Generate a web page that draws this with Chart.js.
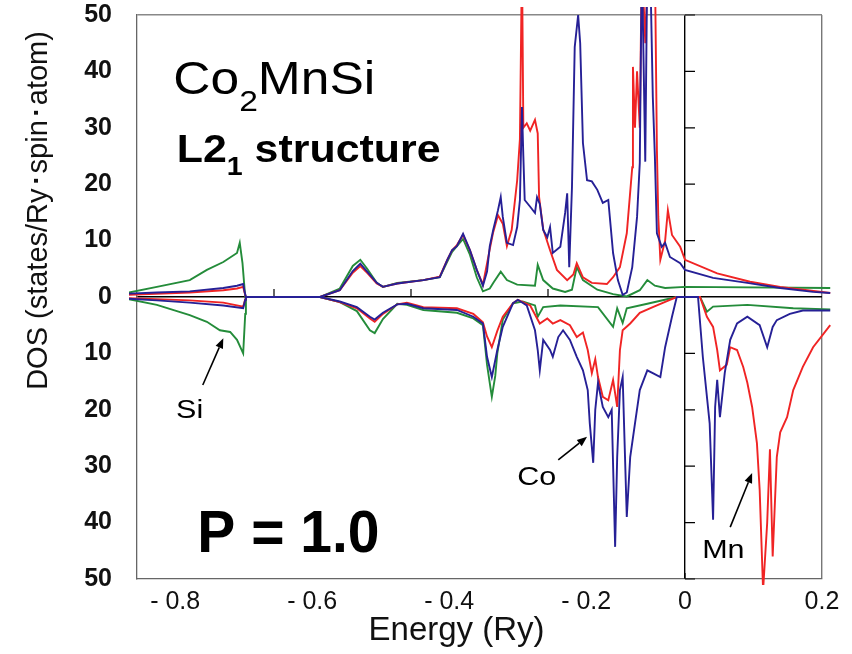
<!DOCTYPE html>
<html>
<head>
<meta charset="utf-8">
<script src="https://cdn.jsdelivr.net/npm/chart.js@4.4.0/dist/chart.umd.min.js"></script>
<style>
  body { margin: 0; background: #fff; }
  canvas { display: block; }
</style>
</head>
<body>
<canvas id="dosChart" width="852" height="654"></canvas>
<script>
// energy (Ry), DOS (states/Ry spin atom); spin down stored as negative values
var coUp = [[-0.812,0.6],[-0.771,0.8],[-0.723,1.0],[-0.674,1.6],[-0.654,2.0],[-0.645,2.3],[-0.643,1.0],[-0.641,0],[-0.533,0],[-0.504,1.2],[-0.485,4.6],[-0.474,5.9],[-0.464,4.5],[-0.450,2.5],[-0.441,1.8],[-0.420,2.4],[-0.382,3.0],[-0.358,3.5],[-0.347,6.6],[-0.340,8.3],[-0.333,9.0],[-0.324,11.2],[-0.314,8.3],[-0.304,4.8],[-0.295,2.0],[-0.289,4.5],[-0.285,9.0],[-0.280,11.9],[-0.273,15.4],[-0.269,17.7],[-0.266,14.2],[-0.260,9.6],[-0.251,9.2],[-0.245,12.4],[-0.241,17.2],[-0.238,33.7],[-0.236,25],[-0.234,17.2],[-0.226,16.0],[-0.219,14.9],[-0.216,17.7],[-0.212,16.5],[-0.207,11.9],[-0.201,10.6],[-0.197,12.4],[-0.193,7.8],[-0.182,8.9],[-0.175,14.9],[-0.172,18.4],[-0.169,5.3],[-0.165,19.5],[-0.161,44.3],[-0.156,50],[-0.153,45],[-0.149,27.3],[-0.143,20.7],[-0.136,20.5],[-0.128,19.0],[-0.120,16.7],[-0.112,17.2],[-0.105,7.8],[-0.098,3.0],[-0.091,0.4],[-0.085,0.8],[-0.077,5.3],[-0.070,14.2],[-0.066,23.8],[-0.063,60],[-0.058,24],[-0.055,60],[-0.051,60],[-0.047,35.5],[-0.044,25],[-0.041,11.3],[-0.034,8.9],[-0.029,9.6],[-0.022,7.1],[-0.007,6.0],[0.0,4.8],[0.041,3.4],[0.091,2.5],[0.139,1.6],[0.187,0.9],[0.212,0.7]];
var coDown = [[-0.812,-0.3],[-0.771,-0.6],[-0.723,-1.0],[-0.674,-1.5],[-0.645,-2.0],[-0.642,-0.5],[-0.641,0],[-0.533,0],[-0.504,-0.8],[-0.479,-1.8],[-0.460,-3.5],[-0.453,-4.0],[-0.441,-2.8],[-0.420,-1.3],[-0.406,-1.2],[-0.382,-2.0],[-0.333,-2.3],[-0.309,-3.5],[-0.295,-4.7],[-0.289,-10.6],[-0.282,-14.2],[-0.274,-9.4],[-0.266,-5.3],[-0.251,-1.1],[-0.244,-0.5],[-0.231,-1.5],[-0.219,-5.9],[-0.215,-9.4],[-0.212,-13],[-0.207,-7.6],[-0.197,-9.4],[-0.193,-10.6],[-0.185,-7.1],[-0.178,-5.9],[-0.168,-7.6],[-0.158,-10.6],[-0.149,-13],[-0.142,-16.5],[-0.139,-22.4],[-0.134,-29.4],[-0.131,-20],[-0.127,-15.2],[-0.120,-19.5],[-0.112,-21.3],[-0.107,-20],[-0.102,-44.3],[-0.099,-28.4],[-0.095,-16.5],[-0.091,-14.2],[-0.085,-39],[-0.080,-28.4],[-0.073,-22.4],[-0.066,-16.5],[-0.055,-13],[-0.047,-13.5],[-0.036,-14.2],[-0.029,-8.9],[-0.019,-3.5],[-0.012,0],[0.019,0],[0.026,-10.6],[0.036,-22.4],[0.041,-39.5],[0.044,-19.5],[0.047,-14.7],[0.051,-21.3],[0.058,-13.5],[0.066,-7.6],[0.076,-4.7],[0.091,-3.5],[0.109,-5.0],[0.120,-8.9],[0.128,-5.3],[0.134,-4.1],[0.153,-3.0],[0.172,-2.4],[0.212,-2.4]];
var mnUp = [[-0.812,0.4],[-0.723,0.8],[-0.674,1.2],[-0.654,1.5],[-0.645,1.8],[-0.643,0.8],[-0.641,0],[-0.533,0],[-0.504,1.2],[-0.485,4.3],[-0.474,5.5],[-0.464,4.3],[-0.450,2.4],[-0.441,1.8],[-0.420,2.4],[-0.382,3.0],[-0.358,3.6],[-0.347,6.6],[-0.340,8.3],[-0.333,9.2],[-0.324,11.0],[-0.314,8.3],[-0.304,4.8],[-0.295,2.2],[-0.285,8.5],[-0.280,11.5],[-0.273,14.5],[-0.266,13.0],[-0.260,9.0],[-0.253,11.9],[-0.245,20.7],[-0.241,28],[-0.238,60],[-0.236,30],[-0.231,30.8],[-0.226,29.5],[-0.219,31.4],[-0.215,29],[-0.213,17.7],[-0.207,12],[-0.197,8.3],[-0.187,4.8],[-0.172,3.0],[-0.163,4.0],[-0.158,6.0],[-0.149,3.5],[-0.136,2.5],[-0.114,2.3],[-0.105,3.5],[-0.095,5.3],[-0.085,11.3],[-0.077,23],[-0.076,40.8],[-0.073,30],[-0.070,40],[-0.066,30],[-0.063,60],[-0.058,45],[-0.054,60],[-0.044,60],[-0.041,26],[-0.039,14.2],[-0.036,6.6],[-0.029,10],[-0.025,15.4],[-0.019,11],[-0.007,8.9],[0.0,6.6],[0.047,4.2],[0.095,2.7],[0.139,1.8],[0.212,0.7]];
var mnDown = [[-0.812,-0.2],[-0.723,-0.6],[-0.674,-1.0],[-0.645,-1.7],[-0.642,-0.4],[-0.641,0],[-0.533,0],[-0.504,-0.9],[-0.479,-2.0],[-0.460,-3.8],[-0.453,-4.4],[-0.441,-3.0],[-0.420,-1.3],[-0.406,-1.0],[-0.382,-1.8],[-0.333,-2.0],[-0.309,-3.0],[-0.295,-4.5],[-0.289,-7.0],[-0.282,-8.9],[-0.274,-6.0],[-0.266,-3.5],[-0.251,-1.1],[-0.244,-0.5],[-0.226,-1.5],[-0.212,-4.7],[-0.201,-3.8],[-0.193,-4.7],[-0.182,-4.1],[-0.168,-5.0],[-0.158,-7.1],[-0.149,-6.3],[-0.142,-9.4],[-0.136,-13.5],[-0.131,-11],[-0.127,-14.2],[-0.120,-17.7],[-0.112,-18.3],[-0.105,-14.7],[-0.099,-19.5],[-0.095,-9.4],[-0.091,-5.9],[-0.080,-4.7],[-0.066,-2.8],[-0.047,-1.8],[-0.022,-0.5],[-0.012,0],[0.022,0],[0.032,-3.5],[0.041,-5.3],[0.047,-9.4],[0.051,-13],[0.061,-12],[0.066,-8.9],[0.076,-9.4],[0.085,-12.4],[0.091,-15.2],[0.098,-19.5],[0.105,-25.9],[0.109,-34.2],[0.114,-52],[0.120,-40],[0.124,-27],[0.128,-46],[0.134,-28.4],[0.139,-24],[0.149,-21.3],[0.158,-16.5],[0.172,-12.4],[0.187,-8.9],[0.212,-5.0]];
var siUp = [[-0.812,0.8],[-0.771,1.8],[-0.723,3.0],[-0.698,4.8],[-0.674,6.2],[-0.654,7.8],[-0.650,9.6],[-0.646,6.0],[-0.642,0],[-0.533,0],[-0.504,1.5],[-0.485,5.5],[-0.474,6.6],[-0.464,5.0],[-0.450,2.5],[-0.441,1.8],[-0.420,2.5],[-0.382,3.0],[-0.358,3.5],[-0.347,6.3],[-0.340,8.0],[-0.324,10.3],[-0.314,7.5],[-0.304,3.5],[-0.295,1.0],[-0.285,1.5],[-0.280,2.5],[-0.269,4.5],[-0.260,3.0],[-0.245,2.2],[-0.219,2.0],[-0.215,5.7],[-0.207,3.0],[-0.193,1.5],[-0.175,0.9],[-0.165,1.3],[-0.158,5.3],[-0.149,3.0],[-0.128,1.3],[-0.105,0.5],[-0.085,0.1],[-0.066,1.2],[-0.055,3.0],[-0.044,2.0],[-0.029,1.6],[0.0,1.8],[0.212,1.6]];
var siDown = [[-0.812,-0.4],[-0.771,-1.4],[-0.723,-3.2],[-0.698,-4.4],[-0.679,-5.9],[-0.664,-6.2],[-0.654,-7.6],[-0.645,-10],[-0.642,-3],[-0.641,0],[-0.533,0],[-0.504,-0.9],[-0.479,-2.5],[-0.460,-5.9],[-0.453,-6.4],[-0.441,-3.9],[-0.420,-1.2],[-0.406,-1.4],[-0.382,-2.3],[-0.333,-2.8],[-0.309,-3.8],[-0.295,-5.0],[-0.289,-12],[-0.282,-17.7],[-0.277,-14],[-0.274,-10],[-0.266,-4],[-0.251,-1.1],[-0.237,-0.8],[-0.219,-1.5],[-0.215,-3.5],[-0.207,-1.8],[-0.182,-1.5],[-0.127,-1.8],[-0.105,-5.3],[-0.099,-2],[-0.091,-4.6],[-0.085,-2],[-0.055,-1.2],[-0.012,0],[0.022,0],[0.032,-2.6],[0.041,-1.7],[0.091,-1.4],[0.158,-2.0],[0.212,-2.2]];

var xTicks = [-0.8, -0.6, -0.4, -0.2, 0, 0.2];
var yTicks = [-50, -40, -30, -20, -10, 0, 10, 20, 30, 40, 50];

var blue = 'rgb(38,32,150)';
var red = 'rgb(240,36,36)';
var green = 'rgb(36,140,58)';
var FONT = '"Liberation Sans", Arial, sans-serif';

function toPoints(arr) {
  return arr.map(function (p) { return { x: p[0], y: p[1] }; });
}

function curve(label, arr, color) {
  return {
    label: label,
    data: toPoints(arr),
    borderColor: color,
    borderWidth: 1.9,
    pointRadius: 0,
    tension: 0,
    fill: false,
    clip: { left: 8, top: 8, right: 10, bottom: 6 }
  };
}

// labels and arrows, placed in data coordinates
var notes = [
  { parts: [['Co', 46, 0], ['2', 30, 17], ['MnSi', 46, 0]], x: -0.747, y: 36.0, bold: false, sx: 1.12 },
  { parts: [['L2', 39, 0], ['1', 26, 13], [' structure', 39, 0]], x: -0.742, y: 23.9, bold: true, sx: 1.1 },
  { parts: [['P = 1.0', 60, 0]], x: -0.712, y: -45.2, bold: true, sx: 0.95 },
  { parts: [['Si', 25, 0]], x: -0.743, y: -21.5, bold: false, sx: 1.22 },
  { parts: [['Co', 25, 0]], x: -0.245, y: -33.3, bold: false, sx: 1.22 },
  { parts: [['Mn', 25, 0]], x: 0.025, y: -46.3, bold: false, sx: 1.22 }
];
var arrows = [
  { from: [-0.704, -15.6], to: [-0.674, -7.3] },
  { from: [-0.185, -28.9], to: [-0.143, -24.8] },
  { from: [0.066, -40.8], to: [0.098, -31.2] }
];

var extras = {
  id: 'extras',
  beforeDatasetsDraw: function (chart) {
    var c = chart.ctx, xs = chart.scales.x, ys = chart.scales.y;
    var x0 = xs.getPixelForValue(0), y0 = ys.getPixelForValue(0);
    c.save();
    c.strokeStyle = '#000';
    c.lineWidth = 1.2;
    c.beginPath();
    [-0.6, -0.4, -0.2].forEach(function (v) {
      var px = xs.getPixelForValue(v);
      c.moveTo(px, y0); c.lineTo(px, y0 - 8);
    });
    yTicks.forEach(function (v) {
      if (v === 0) return;
      var py = ys.getPixelForValue(v);
      c.moveTo(x0, py); c.lineTo(x0 + 10, py);
    });
    c.moveTo(x0, chart.chartArea.bottom); c.lineTo(x0, chart.chartArea.bottom - 6);
    c.stroke();
    c.restore();
  },
  afterDatasetsDraw: function (chart) {
    var c = chart.ctx, xs = chart.scales.x, ys = chart.scales.y;
    c.save();
    c.fillStyle = '#000';
    c.textBaseline = 'alphabetic';
    c.textAlign = 'left';
    notes.forEach(function (n) {
      var px = xs.getPixelForValue(n.x), py = ys.getPixelForValue(n.y);
      c.save();
      c.translate(px, py);
      c.scale(n.sx, 1);
      var cx = 0;
      n.parts.forEach(function (p) {
        c.font = (n.bold ? 'bold ' : '') + p[1] + 'px ' + FONT;
        c.fillText(p[0], cx, p[2]);
        cx += c.measureText(p[0]).width;
      });
      c.restore();
    });
    c.strokeStyle = '#000';
    c.lineWidth = 1.6;
    arrows.forEach(function (a) {
      var x1 = xs.getPixelForValue(a.from[0]), y1 = ys.getPixelForValue(a.from[1]);
      var x2 = xs.getPixelForValue(a.to[0]), y2 = ys.getPixelForValue(a.to[1]);
      var ang = Math.atan2(y2 - y1, x2 - x1);
      var hl = 10, hw = 4;
      c.beginPath();
      c.moveTo(x1, y1);
      c.lineTo(x2 - hl * Math.cos(ang), y2 - hl * Math.sin(ang));
      c.stroke();
      c.beginPath();
      c.moveTo(x2, y2);
      c.lineTo(x2 - hl * Math.cos(ang) + hw * Math.sin(ang), y2 - hl * Math.sin(ang) - hw * Math.cos(ang));
      c.lineTo(x2 - hl * Math.cos(ang) - hw * Math.sin(ang), y2 - hl * Math.sin(ang) + hw * Math.cos(ang));
      c.closePath();
      c.fill();
    });
    c.restore();
  }
};

function near(a, b) { return Math.abs(a - b) < 1e-6; }

var ctx = document.getElementById('dosChart').getContext('2d');
var dosChart = new Chart(ctx, {
  type: 'line',
  data: {
    datasets: [
      curve('Co up', coUp, blue),
      curve('Co down', coDown, blue),
      curve('Mn up', mnUp, red),
      curve('Mn down', mnDown, red),
      curve('Si up', siUp, green),
      curve('Si down', siDown, green)
    ]
  },
  options: {
    responsive: false,
    devicePixelRatio: 1,
    animation: false,
    layout: { padding: { top: 15, right: 30, left: 0, bottom: 0 } },
    plugins: { legend: { display: false }, tooltip: { enabled: false } },
    scales: {
      x: {
        type: 'linear',
        min: -0.8,
        max: 0.2,
        afterFit: function (s) { s.height = 75; s.paddingLeft = 0; s.paddingRight = 0; },
        afterBuildTicks: function (s) { s.ticks = xTicks.map(function (v) { return { value: v }; }); },
        border: { display: true, color: '#666', width: 1.3 },
        grid: {
          drawTicks: false,
          lineWidth: 1.4,
          color: function (c) {
            var v = c.tick ? c.tick.value : null;
            if (v === null) return 'rgba(0,0,0,0)';
            if (near(v, 0)) return '#000';
            if (near(v, 0.2)) return '#777';
            return 'rgba(0,0,0,0)';
          }
        },
        ticks: {
          autoSkip: false,
          maxRotation: 0,
          padding: 8,
          color: '#111',
          font: { family: FONT, size: 25 },
          callback: function (v) {
            var r = Math.round(v * 10) / 10;
            if (r < 0) return '           - ' + Math.abs(r).toFixed(1);
            if (r === 0) return '0';
            return r.toFixed(1);
          }
        },
        title: {
          display: true,
          text: 'Energy (Ry)     ',
          color: '#111',
          font: { family: FONT, size: 33 },
          padding: { top: 0, bottom: 3 }
        }
      },
      y: {
        min: -50,
        max: 50,
        afterFit: function (s) { s.width = 137; s.paddingTop = 0; s.paddingBottom = 0; },
        afterBuildTicks: function (s) { s.ticks = yTicks.map(function (v) { return { value: v }; }); },
        border: { display: true, color: '#666', width: 1.3 },
        grid: {
          drawTicks: false,
          lineWidth: 1.4,
          color: function (c) {
            var v = c.tick ? c.tick.value : null;
            if (v === null) return 'rgba(0,0,0,0)';
            if (near(v, 0)) return '#000';
            if (near(v, 50)) return '#888';
            return 'rgba(0,0,0,0)';
          }
        },
        ticks: {
          padding: 25,
          color: '#111',
          font: { family: FONT, size: 25, weight: 'bold' },
          callback: function (v) { return String(Math.abs(v)); }
        },
        title: {
          display: true,
          text: 'DOS (states/Ry･spin･atom)  ',
          align: 'end',
          color: '#111',
          font: { family: FONT, size: 29 },
          padding: { top: 22, bottom: 0 }
        }
      }
    }
  },
  plugins: [extras]
});
</script>
</body>
</html>
